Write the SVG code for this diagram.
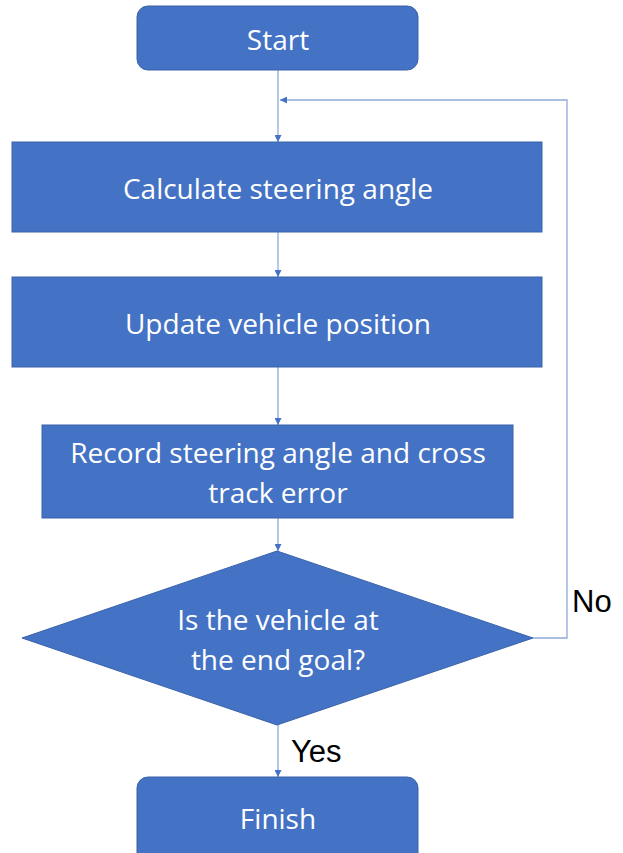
<svg xmlns="http://www.w3.org/2000/svg" width="623" height="853" viewBox="0 0 623 853">
<style>
.node{fill:#4472C4;stroke:#3A62AA;stroke-width:1}
.t{font-family:"Open Sans","Liberation Sans",sans-serif;font-size:28px;fill:#fff;text-anchor:middle}
.lbl{font-family:"Liberation Sans",Arial,sans-serif;font-size:31px;fill:#000}
.c{fill:none;stroke:#8FAADC;stroke-width:1.3}
</style>
<defs>
<marker id="ah" viewBox="0 0 10 10" refX="10" refY="5" markerWidth="7" markerHeight="7" orient="auto" markerUnits="userSpaceOnUse">
<path d="M0,0 L10,5 L0,10 z" fill="#4472C4"/>
</marker>
</defs>
<rect width="623" height="853" fill="#fff"/>
<g id="connectors">
<line class="c" x1="278" y1="70" x2="278" y2="142" marker-end="url(#ah)"/>
<polyline class="c" points="533,638 567,638 567,100 280,100" marker-end="url(#ah)"/>
<line class="c" x1="278" y1="232" x2="278" y2="277" marker-end="url(#ah)"/>
<line class="c" x1="278" y1="367" x2="278" y2="425" marker-end="url(#ah)"/>
<line class="c" x1="278" y1="518" x2="278" y2="551" marker-end="url(#ah)"/>
<line class="c" x1="278" y1="725" x2="278" y2="777" marker-end="url(#ah)"/>
</g>
<g id="start">
<rect class="node" x="137" y="6" width="281" height="64" rx="11"/>
<text class="t" x="278" y="50">Start</text>
</g>
<g id="calc">
<rect class="node" x="12" y="142" width="530" height="90"/>
<text class="t" x="278" y="199">Calculate steering angle</text>
</g>
<g id="update">
<rect class="node" x="12" y="277" width="530" height="90"/>
<text class="t" x="278" y="334">Update vehicle position</text>
</g>
<g id="record">
<rect class="node" x="42" y="425" width="471" height="93"/>
<text class="t" x="278" y="463">Record steering angle and cross</text>
<text class="t" x="278" y="503">track error</text>
</g>
<g id="decision">
<polygon class="node" points="277,551 533,638 277,725 22,638"/>
<text class="t" x="278" y="630">Is the vehicle at</text>
<text class="t" x="278" y="670">the end goal?</text>
</g>
<g id="finish">
<rect class="node" x="137" y="777" width="281" height="90" rx="11"/>
<text class="t" x="278" y="829">Finish</text>
</g>
<g id="labels">
<text class="lbl" x="572" y="612">No</text>
<text class="lbl" x="291" y="762">Yes</text>
</g>
</svg>
